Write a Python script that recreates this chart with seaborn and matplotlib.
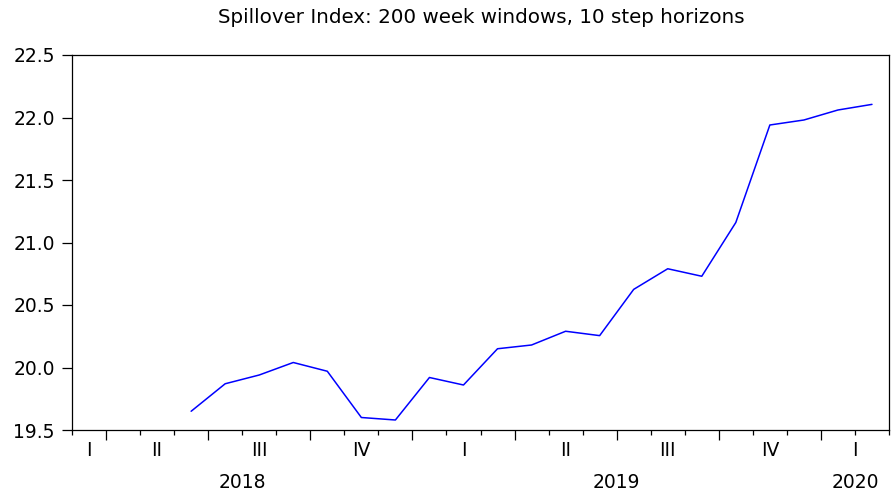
import numpy as np
import pandas as pd
import matplotlib
matplotlib.use("Agg")
import matplotlib.pyplot as plt
import matplotlib.transforms as mtransforms
from matplotlib.ticker import FixedLocator, MultipleLocator
import seaborn as sns

months = ["2018-06", "2018-07", "2018-08", "2018-09", "2018-10", "2018-11",
          "2018-12", "2019-01", "2019-02", "2019-03", "2019-04", "2019-05",
          "2019-06", "2019-07", "2019-08", "2019-09", "2019-10", "2019-11",
          "2019-12", "2020-01", "2020-02"]
spillover = [19.65, 19.87, 19.94, 20.04, 19.97, 19.60,
             19.58, 19.92, 19.86, 20.15, 20.18, 20.29,
             20.255, 20.625, 20.79, 20.73, 21.16, 21.94,
             21.98, 22.06, 22.105]

axis_start = "2018-03"
axis_end = "2020-03"
quarter_labels = ["I", "II", "III", "IV"]
years = [2018, 2019, 2020]
y_ticks = [19.5, 20.0, 20.5, 21.0, 21.5, 22.0, 22.5]
title = "Spillover Index: 200 week windows, 10 step horizons"


def month_offset(s):
    p = pd.Period(s, freq="M")
    return (p - pd.Period(axis_start, freq="M")).n


x0 = 0
x1 = month_offset(axis_end)
df = pd.DataFrame({
    "x": [month_offset(m) + 0.5 for m in months],
    "value": spillover,
})

sns.set_theme(style="white")
plt.rcParams["font.family"] = ["DejaVu Sans"]
plt.rcParams["text.color"] = "black"

fig = plt.figure(figsize=(8.94, 4.95), dpi=100)
ax = fig.add_axes([72 / 894, 1 - 430 / 495, 817 / 894, 375 / 495])

sns.lineplot(data=df, x="x", y="value", ax=ax, color="#0000ff", linewidth=1.1)

ax.set_xlim(x0, x1)
ax.set_ylim(19.5, 22.5)
ax.set_yticks(y_ticks)
ax.set_yticklabels([f"{v:.1f}" for v in y_ticks], fontsize=13.5, color="black")
ax.set_xlabel("")
ax.set_ylabel("")

for s in ax.spines.values():
    s.set_color("black")
    s.set_linewidth(0.9)

# monthly minor ticks, quarter boundaries as longer major ticks
start_month = pd.Period(axis_start, freq="M").month
q_bounds = [m for m in range(x0 + 1, x1)
            if (start_month - 1 + m) % 3 == 0]
ax.xaxis.set_major_locator(FixedLocator(q_bounds))
ax.xaxis.set_minor_locator(MultipleLocator(1))
ax.set_xticklabels([])
ax.tick_params(axis="x", which="major", direction="out", length=7, width=0.9,
               color="black", bottom=True)
ax.tick_params(axis="x", which="minor", direction="out", length=3.5, width=0.9,
               color="black", bottom=True)
ax.tick_params(axis="y", direction="out", length=7, width=0.9, color="black",
               left=True, pad=5.5)

trans = mtransforms.blended_transform_factory(ax.transData, ax.transAxes)

# quarter labels centred in each visible quarter
for yr in years:
    for qi, ql in enumerate(quarter_labels):
        qs = month_offset(f"{yr}-{qi * 3 + 1:02d}")
        lo, hi = max(qs, x0), min(qs + 3, x1)
        if hi <= lo:
            continue
        ax.text((lo + hi) / 2, -0.055, ql, transform=trans, ha="center",
                va="center", fontsize=13.5, color="black")
    ys = month_offset(f"{yr}-01")
    lo, hi = max(ys, x0), min(ys + 12, x1)
    ax.text((lo + hi) / 2, -0.14, str(yr), transform=trans, ha="center",
            va="center", fontsize=13.5, color="black")

fig.text((218 + 745) / 2 / 894, 1 - 17.5 / 495, title, ha="center", va="center",
         fontsize=14.3, color="black")

fig.savefig("out.png", dpi=100)
